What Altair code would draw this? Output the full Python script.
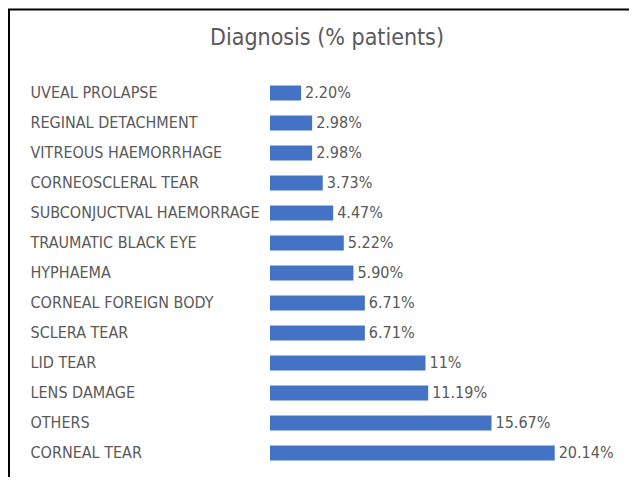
import altair as alt
import pandas as pd

categories = [
    "UVEAL PROLAPSE", "REGINAL DETACHMENT", "VITREOUS HAEMORRHAGE",
    "CORNEOSCLERAL TEAR", "SUBCONJUCTVAL HAEMORRAGE", "TRAUMATIC BLACK EYE",
    "HYPHAEMA", "CORNEAL FOREIGN BODY", "SCLERA TEAR", "LID TEAR",
    "LENS DAMAGE", "OTHERS", "CORNEAL TEAR",
]
values = [2.20, 2.98, 2.98, 3.73, 4.47, 5.22, 5.90, 6.71, 6.71, 11.0, 11.19, 15.67, 20.14]
value_labels = ["2.20%", "2.98%", "2.98%", "3.73%", "4.47%", "5.22%", "5.90%",
                "6.71%", "6.71%", "11%", "11.19%", "15.67%", "20.14%"]
title_text = "Diagnosis (% patients)"

df = pd.DataFrame({"cat": categories, "val": values, "lab": value_labels})

FONT = "DejaVu Sans Condensed, Liberation Sans Narrow, sans-serif"
GRAY = "#595959"
W, H = 311, 390

y_enc = alt.Y("cat:N", sort=categories, title=None,
              scale=alt.Scale(paddingInner=0.5, paddingOuter=0.25),
              axis=alt.Axis(labelAlign="left", labelPadding=240, ticks=False,
                            domain=False, labelFont=FONT, labelFontSize=16,
                            labelColor=GRAY, labelLimit=400, labelBaseline="middle"))
x_enc = alt.X("val:Q", title=None, scale=alt.Scale(domain=[0, 22], nice=False),
              axis=None)

bars = alt.Chart(df).mark_bar(color="#4472C4").encode(x=x_enc, y=y_enc)
texts = alt.Chart(df).mark_text(align="left", baseline="middle", dx=4,
                                font=FONT, fontSize=16, color=GRAY).encode(
    x=x_enc, y=y_enc, text="lab:N")

title = alt.Chart(df.head(1)).mark_text(
    align="center", baseline="alphabetic", font=FONT, fontSize=23,
    fontWeight="normal", color=GRAY).encode(
    x=alt.value(57), y=alt.value(-33), text=alt.value(title_text))

frame_top = alt.Chart(df.head(1)).mark_rule(color="#000000", strokeWidth=2).encode(
    x=alt.value(-262), x2=alt.value(W + 48), y=alt.value(-68.5))
frame_left = alt.Chart(df.head(1)).mark_rule(color="#000000", strokeWidth=2).encode(
    x=alt.value(-261), y=alt.value(-69), y2=alt.value(H + 9))

chart = alt.layer(frame_top, frame_left, bars, texts, title).properties(
    width=W, height=H,
    autosize=alt.AutoSizeParams(type="none"),
    padding={"left": 262, "right": 48, "top": 70, "bottom": 9},
).configure_view(stroke=None)

chart.save("out.html", embed_options={"renderer": "svg", "actions": False})
